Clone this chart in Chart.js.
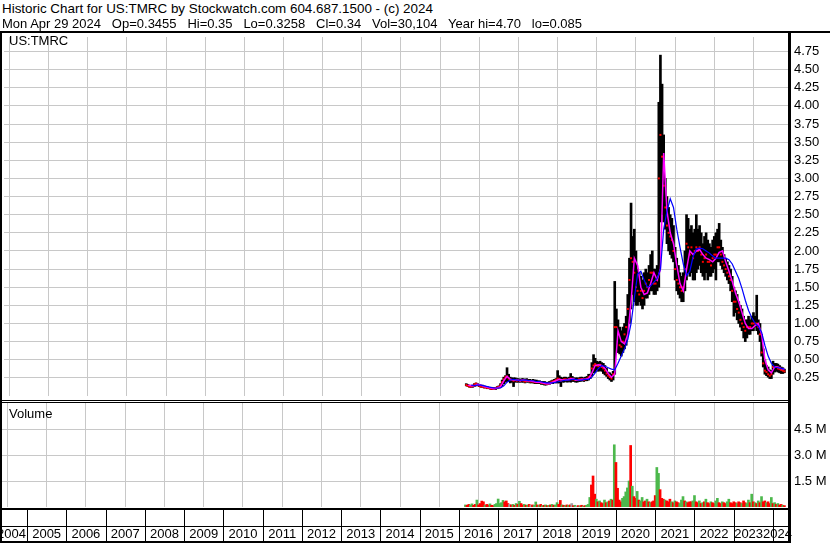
<!DOCTYPE html>
<html>
<head>
<meta charset="utf-8">
<script src="https://cdn.jsdelivr.net/npm/chart.js@4.4.1/dist/chart.umd.min.js"></script>
<style>
  body { margin: 0; background: #fff; font-family: "Liberation Sans", Arial, sans-serif; }
  #page { position: relative; width: 830px; height: 543px; overflow: hidden; background: #fff; }
  .txt { position: absolute; font-size: 13px; line-height: 15px; white-space: pre; color: #000; z-index: 2; }
  .rule { position: absolute; background: #000; z-index: 3; }
  canvas { position: absolute; left: 0; }
</style>
</head>
<body>
<div id="page">
  <div class="txt" style="left:2px;top:1px;font-size:13.4px">Historic Chart for US:TMRC by Stockwatch.com 604.687.1500 - (c) 2024</div>
  <div class="txt" style="left:2px;top:16px">Mon Apr 29 2024   Op=0.3455   Hi=0.35   Lo=0.3258   Cl=0.34   Vol=30,104   Year hi=4.70   lo=0.085</div>
  <div class="rule" style="left:0;top:31px;width:830px;height:2px"></div>
  <div class="rule" style="left:0;top:33px;width:2px;height:510px"></div>
  <div class="rule" style="left:788px;top:31px;width:3px;height:512px"></div>
  <div class="rule" style="left:0;top:400px;width:790px;height:1px"></div>
  <div class="rule" style="left:0;top:402px;width:790px;height:1px"></div>
  <div class="txt" style="left:9px;top:33px">US:TMRC</div>
  <div class="txt" style="left:9px;top:406px">Volume</div>
  <canvas id="price" width="830" height="367" style="top:33px"></canvas>
  <canvas id="volume" width="830" height="140" style="top:403px"></canvas>
</div>
<script>
// ==================== Data ====================

const yearLabels = ['2004','2005','2006','2007','2008','2009','2010','2011','2012','2013','2014',
    '2015','2016','2017','2018','2019','2020','2021','2022','2023','2024'];
const priceTicks = [0.25,0.5,0.75,1,1.25,1.5,1.75,2,2.25,2.5,2.75,3,3.25,3.5,3.75,4,4.25,4.5,4.75];
const volumeTicks = [1.5, 3.0, 4.5];

// half-month bars
const dates = [
    '2016-03-01','2016-03-16','2016-04-01','2016-04-16','2016-05-01','2016-05-16','2016-06-01','2016-06-16','2016-07-01','2016-07-16',
    '2016-08-01','2016-08-16','2016-09-01','2016-09-16','2016-10-01','2016-10-16','2016-11-01','2016-11-16','2016-12-01','2016-12-16',
    '2017-01-01','2017-01-16','2017-02-01','2017-02-16','2017-03-01','2017-03-16','2017-04-01','2017-04-16','2017-05-01','2017-05-16','2017-06-01','2017-06-16',
    '2017-07-01','2017-07-16','2017-08-01','2017-08-16','2017-09-01','2017-09-16','2017-10-01','2017-10-16','2017-11-01','2017-11-16','2017-12-01','2017-12-16',
    '2018-01-01','2018-01-16','2018-02-01','2018-02-16','2018-03-01','2018-03-16','2018-04-01','2018-04-16','2018-05-01','2018-05-16','2018-06-01','2018-06-16',
    '2018-07-01','2018-07-16','2018-08-01','2018-08-16','2018-09-01','2018-09-16','2018-10-01','2018-10-16','2018-11-01','2018-11-16','2018-12-01','2018-12-16',
    '2019-01-01','2019-01-16','2019-02-01','2019-02-16','2019-03-01','2019-03-16','2019-04-01','2019-04-16','2019-05-01','2019-05-16','2019-06-01','2019-06-16',
    '2019-07-01','2019-07-16','2019-08-01','2019-08-16','2019-09-01','2019-09-16','2019-10-01','2019-10-16','2019-11-01','2019-11-16','2019-12-01','2019-12-16',
    '2020-01-01','2020-01-16','2020-02-01','2020-02-16','2020-03-01','2020-03-16','2020-04-01','2020-04-16','2020-05-01','2020-05-16','2020-06-01','2020-06-16',
    '2020-07-01','2020-07-16','2020-08-01','2020-08-16','2020-09-01','2020-09-16','2020-10-01','2020-10-16','2020-11-01','2020-11-16','2020-12-01','2020-12-16',
    '2021-01-01','2021-01-16','2021-02-01','2021-02-16','2021-03-01','2021-03-16','2021-04-01','2021-04-16','2021-05-01','2021-05-16','2021-06-01','2021-06-16',
    '2021-07-01','2021-07-16','2021-08-01','2021-08-16','2021-09-01','2021-09-16','2021-10-01','2021-10-16','2021-11-01','2021-11-16','2021-12-01','2021-12-16',
    '2022-01-01','2022-01-16','2022-02-01','2022-02-16','2022-03-01','2022-03-16','2022-04-01','2022-04-16','2022-05-01','2022-05-16','2022-06-01','2022-06-16',
    '2022-07-01','2022-07-16','2022-08-01','2022-08-16','2022-09-01','2022-09-16','2022-10-01','2022-10-16','2022-11-01','2022-11-16','2022-12-01','2022-12-16',
    '2023-01-01','2023-01-16','2023-02-01','2023-02-16','2023-03-01','2023-03-16','2023-04-01','2023-04-16','2023-05-01','2023-05-16','2023-06-01','2023-06-16',
    '2023-07-01','2023-07-16','2023-08-01','2023-08-16','2023-09-01','2023-09-16','2023-10-01','2023-10-16','2023-11-01','2023-11-16','2023-12-01','2023-12-16',
    '2024-01-01','2024-01-16','2024-02-01','2024-02-16','2024-03-01','2024-03-16','2024-04-01','2024-04-16'
];

const lows = [
    .14,.13,.12,.12,.12,.13,.14,.14,.13,.12,.12,.11,.11,.10,.10,.09,.09,.09,.09,.10,
    .11,.12,.14,.17,.19,.20,.20,.18,.19,.13,.19,.19,.19,.19,.19,.19,.18,.19,.19,.18,.18,.18,.17,.17,
    .17,.17,.16,.16,.15,.15,.16,.16,.17,.17,.18,.18,.18,.18,.13,.19,.19,.20,.19,.20,.19,.20,.20,.19,
    .19,.20,.20,.21,.20,.21,.21,.22,.24,.28,.32,.33,.36,.34,.35,.34,.31,.29,.27,.24,.22,.20,.22,.30,
    .60,.60,.58,.55,.60,.65,.70,.85,1.00,1.20,1.40,1.30,1.25,1.25,1.30,1.25,1.20,1.25,1.35,1.35,1.40,1.45,1.45,1.40,
    1.40,1.45,1.50,2.40,2.50,2.40,2.30,2.10,2.00,1.95,1.90,1.85,1.60,1.45,1.40,1.35,1.30,1.30,1.45,1.60,1.70,1.65,1.70,1.60,
    1.60,1.70,1.75,1.80,1.70,1.65,1.60,1.70,1.60,1.65,1.65,1.70,1.75,1.60,1.85,1.85,1.80,1.75,1.70,1.65,1.60,1.55,1.45,1.30,
    1.10,1.15,1.05,1.00,0.95,0.90,0.80,0.75,0.80,0.85,0.85,0.90,0.90,0.95,0.90,0.85,0.75,0.55,0.40,0.30,0.28,0.26,0.24,0.24,
    .30,.33,.34,.33,.32,.31,.31,.32
];
const highs = [
    .17,.16,.15,.14,.15,.17,.18,.17,.16,.15,.15,.14,.13,.13,.12,.12,.12,.11,.12,.13,
    .14,.17,.22,.26,.28,.39,.30,.26,.25,.25,.25,.24,.24,.23,.24,.24,.23,.24,.23,.23,.22,.23,.22,.22,
    .21,.21,.20,.20,.20,.19,.19,.20,.21,.22,.23,.24,.35,.28,.26,.25,.26,.26,.25,.26,.31,.27,.25,.25,
    .25,.25,.26,.26,.25,.26,.27,.30,.30,.46,.57,.52,.48,.47,.48,.46,.45,.42,.38,.33,.32,.30,.34,1.58,
    1.20,1.05,.95,.90,.95,1.00,1.10,1.40,1.90,2.66,2.20,2.30,2.00,1.75,1.70,1.65,1.60,1.70,1.75,1.70,1.80,1.95,2.00,1.75,
    1.75,1.80,4.05,4.70,4.30,3.60,3.00,2.75,2.60,2.50,2.45,2.35,2.05,1.90,1.80,1.70,1.65,1.70,2.00,2.50,2.45,2.30,2.35,2.25,
    2.30,2.50,2.30,2.35,2.25,2.10,2.20,2.25,2.15,2.10,2.05,2.15,2.20,2.25,2.30,2.38,2.15,2.05,1.95,1.90,1.85,1.80,1.75,1.65,
    1.50,1.45,1.40,1.30,1.25,1.20,1.10,1.05,1.05,1.10,1.05,1.10,1.15,1.10,1.39,1.05,1.00,0.85,0.65,0.50,0.42,0.40,0.36,0.35,
    .48,.45,.45,.44,.42,.40,.39,.37
];
const closes = [
    .15,.14,.13,.13,.14,.16,.17,.15,.14,.13,.13,.12,.12,.11,.11,.10,.10,.10,.11,.12,
    .12,.15,.19,.23,.26,.27,.24,.22,.22,.21,.22,.21,.22,.21,.22,.21,.20,.21,.21,.20,.20,.20,.19,.19,
    .19,.19,.18,.18,.17,.17,.17,.18,.19,.20,.21,.22,.24,.23,.21,.22,.23,.23,.22,.23,.24,.23,.23,.22,
    .22,.23,.23,.23,.22,.23,.24,.26,.27,.38,.42,.44,.42,.41,.43,.40,.38,.35,.31,.28,.26,.24,.30,.95,
    .95,.85,.70,.68,.75,.85,.95,1.20,1.60,1.90,1.85,1.70,1.50,1.45,1.40,1.45,1.35,1.45,1.55,1.50,1.60,1.70,1.70,1.55,
    1.55,1.60,3.00,3.60,3.30,2.90,2.60,2.35,2.25,2.20,2.15,2.00,1.75,1.60,1.55,1.50,1.45,1.50,1.75,2.10,2.05,1.95,2.05,1.90,
    2.00,2.05,2.00,2.05,1.95,1.85,1.90,1.95,1.85,1.85,1.80,1.90,1.95,1.95,2.05,2.05,1.95,1.85,1.80,1.75,1.70,1.65,1.60,1.45,
    1.30,1.30,1.20,1.15,1.05,1.00,0.95,0.90,0.95,0.95,0.95,1.00,1.00,1.00,1.00,0.95,0.85,0.60,0.45,0.35,0.33,0.30,0.28,0.30,
    .40,.40,.40,.38,.37,.36,.35,.34
];

// volume in millions, direction 1 up / -1 down / 0 unchanged
const volumes = [
    .12,.10,.15,.12,.18,.10,.15,.40,.12,.20,.34,.30,.10,.15,.12,.18,.10,.08,.15,.20,
    .46,.20,.25,.38,.30,.35,.20,.15,.12,.15,.10,.20,.15,.33,.20,.12,.15,.10,.12,.15,.10,.12,.10,.29,
    .12,.10,.15,.08,.10,.12,.08,.10,.12,.15,.10,.12,.25,.15,.38,.12,.10,.08,.12,.10,.12,.20,.08,.10,
    .05,.08,.06,.10,.05,.08,.10,.15,.55,1.27,1.79,.74,.45,.30,.35,.25,.20,.40,.25,.30,.35,.45,.40,3.59,
    2.57,1.08,.40,.30,.50,.60,.87,1.10,1.50,3.55,1.20,.60,.50,.90,.40,.35,.55,.30,.35,.45,.30,.25,.30,.35,
    .66,2.28,1.94,1.00,.50,.45,.40,.35,.30,.45,.30,.25,.35,.30,.25,.20,.40,.60,.35,.30,.25,.30,.30,.35,
    .66,.30,.25,.35,.20,.25,.30,.45,.25,.20,.30,.25,.20,.35,.50,.25,.20,.30,.25,.20,.30,.45,.25,.20,
    .30,.25,.20,.30,.25,.20,.35,.25,.20,.40,.25,.74,.30,.25,.20,.35,.25,.60,.30,.35,.25,.30,.20,.55,
    .20,.25,.15,.20,.12,.15,.10,.08
];
const volumeDir = [
    1,-1,-1,1,1,-1,-1,1,-1,-1,-1,-1,1,-1,-1,1,-1,-1,1,1,
    1,1,1,1,-1,-1,-1,0,-1,1,-1,1,-1,1,-1,-1,1,-1,1,-1,0,-1,1,1,
    -1,1,-1,1,-1,1,-1,1,-1,1,-1,1,1,-1,-1,1,-1,1,-1,1,-1,0,-1,1,
    0,-1,1,-1,1,-1,1,1,1,-1,-1,-1,1,-1,1,-1,-1,1,-1,1,-1,1,-1,1,
    -1,-1,-1,-1,1,1,1,1,1,-1,1,-1,-1,1,-1,1,1,-1,-1,1,-1,1,-1,-1,
    -1,1,1,-1,-1,-1,1,-1,-1,-1,1,-1,1,-1,-1,1,1,1,-1,1,-1,-1,-1,1,
    1,-1,-1,1,-1,1,-1,1,-1,-1,1,-1,-1,1,1,-1,-1,1,-1,-1,1,1,-1,-1,
    -1,-1,1,-1,-1,1,-1,-1,1,1,-1,1,-1,1,-1,1,-1,1,-1,-1,1,-1,-1,1,
    -1,1,-1,1,-1,-1,1,-1
];

// monthly moving averages (mid-month)
const maMonths = [
    '2016-03','2016-04','2016-05','2016-06','2016-07','2016-08','2016-09','2016-10','2016-11','2016-12',
    '2017-01','2017-02','2017-03','2017-04','2017-05','2017-06','2017-07','2017-08','2017-09','2017-10','2017-11','2017-12',
    '2018-01','2018-02','2018-03','2018-04','2018-05','2018-06','2018-07','2018-08','2018-09','2018-10','2018-11','2018-12',
    '2019-01','2019-02','2019-03','2019-04','2019-05','2019-06','2019-07','2019-08','2019-09','2019-10','2019-11','2019-12',
    '2020-01','2020-02','2020-03','2020-04','2020-05','2020-06','2020-07','2020-08','2020-09','2020-10','2020-11','2020-12',
    '2021-01','2021-02','2021-03','2021-04','2021-05','2021-06','2021-07','2021-08','2021-09','2021-10','2021-11','2021-12',
    '2022-01','2022-02','2022-03','2022-04','2022-05','2022-06','2022-07','2022-08','2022-09','2022-10','2022-11','2022-12',
    '2023-01','2023-02','2023-03','2023-04','2023-05','2023-06','2023-07','2023-08','2023-09','2023-10','2023-11','2023-12',
    '2024-01','2024-02','2024-03','2024-04'
];
const maShort = [
    .15,.14,.14,.16,.15,.13,.12,.11,.10,.11,
    .13,.21,.27,.23,.22,.22,.21,.22,.21,.21,.20,.19,
    .19,.18,.17,.17,.19,.21,.23,.22,.22,.23,.24,.22,
    .22,.23,.23,.24,.32,.42,.43,.42,.38,.31,.26,.30,
    .90,.75,.72,.85,1.30,1.90,1.80,1.50,1.40,1.42,1.55,1.70,
    1.60,1.75,3.35,2.55,2.25,2.10,1.80,1.55,1.45,1.75,2.00,1.95,
    2.00,2.02,1.95,1.90,1.88,1.85,1.90,1.98,2.00,1.85,1.72,1.58,
    1.42,1.30,1.15,1.00,0.93,0.93,0.97,1.00,0.85,0.50,0.36,0.32,
    .40,.40,.38,.37
];
const maLong = [
    null,.15,.145,.15,.15,.14,.13,.12,.11,.11,
    .11,.14,.19,.22,.23,.22,.22,.22,.22,.21,.21,.20,
    .20,.19,.18,.18,.18,.19,.20,.21,.22,.22,.23,.23,
    .22,.22,.23,.23,.26,.32,.38,.42,.41,.39,.37,.36,
    .45,.55,.65,.78,1.00,1.35,1.68,1.72,1.60,1.50,1.52,1.57,
    1.62,1.75,2.30,2.55,2.72,2.60,2.30,2.05,1.82,1.66,1.72,1.92,
    2.03,2.04,2.03,2.00,1.97,1.93,1.90,1.90,1.90,1.90,1.88,1.82,
    1.72,1.62,1.48,1.32,1.18,1.08,1.00,0.96,0.88,0.70,0.55,0.45,
    .40,.39,.38,.37
];

// ==================== Chart ====================

const X_MIN = 2004.3633;
const X_MAX = 2024.382;
const GRID = '#c8c8c8';
const UP = '#4cb84c';
const DOWN = '#ff0000';
const FLAT = '#a0a0a0';

Chart.defaults.font.family = '"Liberation Sans", Arial, sans-serif';
Chart.defaults.font.size = 13;
Chart.defaults.color = '#000';

function toYear(s) {
    const [y, m, d] = s.split('-').map(Number);
    return d ? y + (m - 1) / 12 + (d - 1) / 365 : y + (m - 0.5) / 12;
}

const yearTicks = yearLabels.slice(1).map(Number);

function xScale() {
    return {
        type: 'linear', min: X_MIN, max: X_MAX, offset: false,
        grid: { color: GRID, lineWidth: 1, drawTicks: false },
        border: { display: false },
        ticks: { display: false },
        afterBuildTicks: s => { s.ticks = yearTicks.map(v => ({ value: v })); },
        afterFit: s => { s.height = 0; s.paddingLeft = 0; s.paddingRight = 0; }
    };
}

function yScale(max, ticks, fmt) {
    return {
        position: 'right', min: 0, max,
        grid: { color: GRID, lineWidth: 1, drawTicks: false },
        border: { display: false },
        ticks: { padding: 6, color: '#000', font: { size: 13 }, callback: fmt },
        afterBuildTicks: s => { s.ticks = ticks.map(v => ({ value: v })); },
        afterFit: s => { s.width = 42; s.paddingTop = 0; s.paddingBottom = 0; }
    };
}

const common = {
    responsive: false,
    animation: false,
    events: [],
    devicePixelRatio: 1,
    plugins: { legend: { display: false }, tooltip: { enabled: false } }
};

new Chart(document.getElementById('price'), {
    type: 'bar',
    data: {
        datasets: [
            {
                type: 'bar',
                data: dates.map((d, i) => ({ x: toYear(d), y: [lows[i], highs[i]] })),
                backgroundColor: '#000',
                barThickness: 2,
                order: 4
            },
            {
                type: 'line',
                data: dates.map((d, i) => ({ x: toYear(d), y: closes[i] })),
                showLine: false,
                pointStyle: 'rect',
                pointRadius: 1.4,
                pointBackgroundColor: '#ff0000',
                pointBorderWidth: 0,
                order: 3
            },
            {
                type: 'line',
                data: maMonths.map((d, i) => ({ x: toYear(d), y: maShort[i] })),
                borderColor: '#ff00ff',
                borderWidth: 1.5,
                pointRadius: 0,
                tension: 0,
                order: 2
            },
            {
                type: 'line',
                data: maMonths.map((d, i) => ({ x: toYear(d), y: maLong[i] })),
                borderColor: '#0000ff',
                borderWidth: 1.2,
                pointRadius: 0,
                tension: 0,
                order: 1
            }
        ]
    },
    options: {
        ...common,
        layout: { padding: { left: 2, right: 0, top: 0, bottom: 0 } },
        scales: {
            x: xScale(),
            y: yScale(4.95, priceTicks, v => v.toFixed(2))
        }
    }
});

// bottom date row, drawn from the volume chart's x scale
const dateRow = {
    id: 'dateRow',
    afterDraw(chart) {
        const { ctx, chartArea: a, scales: { x } } = chart;
        const top = a.bottom + 1;
        const right = a.right + 2;
        ctx.save();
        ctx.fillStyle = '#000';
        ctx.fillRect(0, top, right, 2);
        ctx.fillRect(0, top + 18, right, 1);
        ctx.fillRect(0, top + 33, right, 2);
        const edges = yearLabels.map(l => x.getPixelForValue(Number(l)));
        edges.forEach((px, i) => { if (i > 0) ctx.fillRect(Math.round(px), top + 2, 1, 31); });
        ctx.font = '13px "Liberation Sans", Arial, sans-serif';
        ctx.textBaseline = 'alphabetic';
        ctx.textAlign = 'left';
        const items = yearLabels.map((l, i) => {
            const l0 = Math.max(edges[i], a.left);
            const r0 = i + 1 < edges.length ? edges[i + 1] : a.right;
            const w = ctx.measureText(l).width;
            let left = (l0 + r0) / 2 - w / 2;
            if (i === 0) left = r0 - 1 - w;
            if (i === yearLabels.length - 1) left = a.right + 4 - w;
            return { l, w, left };
        });
        for (let i = items.length - 2; i >= 0; i--) {
            const nxt = items[i + 1];
            if (items[i].left + items[i].w > nxt.left) items[i].left = nxt.left - items[i].w;
        }
        items.forEach(it => ctx.fillText(it.l, it.left, top + 30));
        ctx.restore();
    }
};

new Chart(document.getElementById('volume'), {
    type: 'bar',
    data: {
        datasets: [{
            data: dates.map((d, i) => ({ x: toYear(d), y: volumes[i] })),
            backgroundColor: volumeDir.map(v => v > 0 ? UP : v < 0 ? DOWN : FLAT),
            barThickness: 2
        }]
    },
    options: {
        ...common,
        layout: { padding: { left: 2, right: 0, top: 0, bottom: 36 } },
        scales: {
            x: xScale(),
            y: yScale(6.0, volumeTicks, v => v.toFixed(1) + ' M')
        }
    },
    plugins: [dateRow]
});
</script>
</body>
</html>
